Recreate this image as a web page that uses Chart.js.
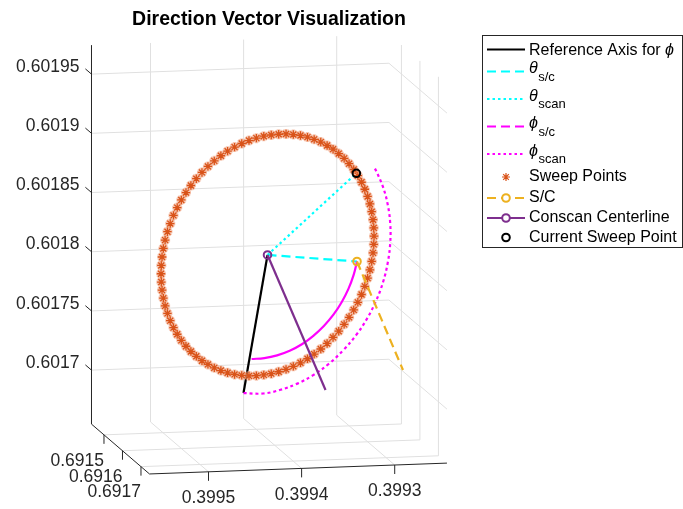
<!DOCTYPE html>
<html><head><meta charset="utf-8">
<script src="https://cdn.jsdelivr.net/npm/chart.js@4.4.1/dist/chart.umd.min.js"></script>
<style>html,body{margin:0;padding:0;background:#fff;overflow:hidden}</style>
</head><body>
<canvas id="c" width="683" height="509"></canvas>
<script>
// ---------------- data (3D values: X, Y, Z) ----------------
const xTicks = [0.3995, 0.3994, 0.3993];
const yTicks = [0.6915, 0.6916, 0.6917];
const zTicks = [0.6017, 0.60175, 0.6018, 0.60185, 0.6019, 0.60195];
const xTickLabels = ['0.3995', '0.3994', '0.3993'];
const yTickLabels = ['0.6915', '0.6916', '0.6917'];
const zTickLabels = ['0.6017', '0.60175', '0.6018', '0.60185', '0.6019', '0.60195'];
const xLim = [0.3992439, 0.3995634];
const yLim = [0.6914325, 0.6917460];
const zLim = [0.6016544, 0.6019745];

const planeY = 0.6916;
const centerXZ = [0.3994076, 0.6018153];
const refEndXZ = [0.3994334, 0.6016994];
const scPointXZ = [0.3993115, 0.6018070];
const scEndXZ = [0.3992621, 0.6017139];
const centerlineEndXZ = [0.3993453, 0.6016994];
const currentSweepXZ = [0.3993122, 0.6018815];

const sweepX = [0.3992932,0.3992935,0.3992943,0.3992957,0.3992976,0.3993001,0.3993031,0.3993066,0.3993106,0.3993150,0.3993200,0.3993253,0.3993311,0.3993372,0.3993436,0.3993504,0.3993575,0.3993647,0.3993722,0.3993799,0.3993877,0.3993956,0.3994036,
0.3994116,0.3994196,0.3994275,0.3994353,0.3994430,0.3994505,0.3994577,0.3994648,0.3994716,0.3994780,0.3994841,0.3994899,0.3994952,0.3995002,0.3995046,0.3995086,0.3995121,0.3995151,0.3995176,0.3995195,0.3995209,0.3995217,
0.3995220,0.3995217,0.3995209,0.3995195,0.3995176,0.3995151,0.3995121,0.3995086,0.3995046,0.3995002,0.3994952,0.3994899,0.3994841,0.3994780,0.3994716,0.3994648,0.3994577,0.3994505,0.3994430,0.3994353,0.3994275,0.3994196,0.3994116,
0.3994036,0.3993956,0.3993877,0.3993799,0.3993722,0.3993647,0.3993575,0.3993504,0.3993436,0.3993372,0.3993311,0.3993253,0.3993200,0.3993150,0.3993106,0.3993066,0.3993031,0.3993001,0.3992976,0.3992957,0.3992943,0.3992935];
const sweepZ = [0.6018279,0.6018209,0.6018138,0.6018066,0.6017996,0.6017926,0.6017858,0.6017790,0.6017725,0.6017662,0.6017601,0.6017543,0.6017487,0.6017436,0.6017387,0.6017342,0.6017301,0.6017264,0.6017232,0.6017204,0.6017181,0.6017163,0.6017149,
0.6017141,0.6017137,0.6017137,0.6017144,0.6017154,0.6017170,0.6017191,0.6017216,0.6017247,0.6017280,0.6017319,0.6017361,0.6017407,0.6017458,0.6017511,0.6017568,0.6017628,0.6017690,0.6017754,0.6017820,0.6017888,0.6017957,
0.6018027,0.6018097,0.6018168,0.6018240,0.6018310,0.6018380,0.6018448,0.6018516,0.6018581,0.6018644,0.6018705,0.6018763,0.6018819,0.6018870,0.6018919,0.6018964,0.6019005,0.6019042,0.6019074,0.6019102,0.6019125,0.6019143,0.6019157,
0.6019165,0.6019169,0.6019169,0.6019162,0.6019152,0.6019136,0.6019115,0.6019090,0.6019059,0.6019026,0.6018987,0.6018945,0.6018899,0.6018848,0.6018795,0.6018738,0.6018678,0.6018616,0.6018552,0.6018486,0.6018418,0.6018349];

const phiScX = [0.3994247,0.3994110,0.3993973,0.3993838,0.3993707,0.3993584,0.3993471,0.3993368,0.3993280,0.3993207,0.3993151,0.3993115];
const phiScZ = [0.6017279,0.6017283,0.6017302,0.6017337,0.6017388,0.6017456,0.6017536,0.6017628,0.6017731,0.6017841,0.6017958,0.6018070];

const phiScanX = [0.3994334,0.3994122,0.3993937,0.3993756,0.3993581,0.3993415,0.3993263,0.3993125,0.3993006,0.3992909,0.3992834,0.3992784,0.3992758,0.3992758,0.3992784,0.3992834,0.3992909,0.3992932];
const phiScanZ = [0.6016994,0.6016984,0.6017010,0.6017057,0.6017126,0.6017216,0.6017325,0.6017448,0.6017586,0.6017734,0.6017891,0.6018053,0.6018218,0.6018379,0.6018538,0.6018688,0.6018829,0.6018862];

// ---------------- 3D -> 2D view projection (orthographic) ----------------
function proj(X, Y, Z) {
  return {
    x: 181.5 - 931000 * (X - 0.3995) + 185000 * (Y - 0.6916),
    y: 394.6 + 34000 * (X - 0.3995) + 159000 * (Y - 0.6916) - 1184000 * (Z - 0.6017)
  };
}
const pXZ = (xz) => proj(xz[0], planeY, xz[1]);
const pts = (xs, zs) => xs.map((x, i) => proj(x, planeY, zs[i]));

const FONT = '"Liberation Sans", Arial, "DejaVu Sans", sans-serif';
const C_TEXT = '#262626';

const box3d = {
  id: 'box3d',
  beforeDatasetsDraw(chart) {
    const ctx = chart.ctx, sx = chart.scales.x, sy = chart.scales.y;
    const P = (X, Y, Z) => { const q = proj(X, Y, Z); return { x: sx.getPixelForValue(q.x), y: sy.getPixelForValue(q.y) }; };
    const seg = (a, b) => { ctx.beginPath(); ctx.moveTo(a.x, a.y); ctx.lineTo(b.x, b.y); ctx.stroke(); };
    ctx.save();
    ctx.strokeStyle = '#e0e0e0'; ctx.lineWidth = 1;
    xTicks.forEach(x => { seg(P(x, yLim[0], zLim[0]), P(x, yLim[0], zLim[1])); seg(P(x, yLim[0], zLim[0]), P(x, yLim[1], zLim[0])); });
    zTicks.forEach(z => { seg(P(xLim[1], yLim[0], z), P(xLim[0], yLim[0], z)); seg(P(xLim[0], yLim[0], z), P(xLim[0], yLim[1], z)); });
    yTicks.forEach(y => { seg(P(xLim[0], y, zLim[0]), P(xLim[0], y, zLim[1])); seg(P(xLim[1], y, zLim[0]), P(xLim[0], y, zLim[0])); });
    ctx.strokeStyle = C_TEXT; ctx.lineWidth = 1;
    seg(P(xLim[1], yLim[0], zLim[0]), P(xLim[1], yLim[0], zLim[1]));
    seg(P(xLim[1], yLim[0], zLim[0]), P(xLim[1], yLim[1], zLim[0]));
    seg(P(xLim[1], yLim[1], zLim[0]), P(xLim[0], yLim[1], zLim[0]));
    zTicks.forEach(z => seg(P(xLim[1], yLim[0], z), P(xLim[1], yLim[0] - 0.000033, z)));
    xTicks.forEach(x => seg(P(x, yLim[1], zLim[0]), P(x, yLim[1], zLim[0] - 0.0000076)));
    yTicks.forEach(y => seg(P(xLim[1], y, zLim[0]), P(xLim[1], y, zLim[0] - 0.0000076)));
    ctx.restore();
  },
  afterDraw(chart) {
    const ctx = chart.ctx, sx = chart.scales.x, sy = chart.scales.y;
    const P = (X, Y, Z) => { const q = proj(X, Y, Z); return { x: sx.getPixelForValue(q.x), y: sy.getPixelForValue(q.y) }; };
    ctx.save();
    ctx.fillStyle = C_TEXT;
    ctx.font = '17.5px ' + FONT;
    ctx.textBaseline = 'middle';
    ctx.textAlign = 'right';
    zTicks.forEach((z, i) => { const a = P(xLim[1], yLim[0] - 0.000033, z); ctx.fillText(zTickLabels[i], a.x - 6, a.y - 2); });
    yTicks.forEach((y, i) => { const a = P(xLim[1], y, zLim[0]); ctx.fillText(yTickLabels[i], a.x, a.y + 26); });
    ctx.textAlign = 'center';
    xTicks.forEach((x, i) => { const a = P(x, yLim[1], zLim[0]); ctx.fillText(xTickLabels[i], a.x, a.y + 26.5); });
    // title
    ctx.fillStyle = '#000';
    ctx.font = 'bold 19.5px ' + FONT;
    ctx.fillText('Direction Vector Visualization', 269, 20);
    // legend
    const L = { x0: 482.5, y0: 35.5, x1: 682.5, y1: 247.5 };
    ctx.fillStyle = '#fff'; ctx.fillRect(L.x0, L.y0, L.x1 - L.x0, L.y1 - L.y0);
    ctx.strokeStyle = C_TEXT; ctx.lineWidth = 1; ctx.setLineDash([]);
    ctx.strokeRect(L.x0, L.y0, L.x1 - L.x0, L.y1 - L.y0);
    const lx0 = 487, lx1 = 525, mx = 506, tx = 529;
    const line = (y, color, dash, w) => { ctx.save(); ctx.strokeStyle = color; ctx.lineWidth = w || 2; ctx.setLineDash(dash); ctx.beginPath(); ctx.moveTo(lx0, y); ctx.lineTo(lx1, y); ctx.stroke(); ctx.restore(); };
    const circ = (y, color) => { ctx.save(); ctx.strokeStyle = color; ctx.lineWidth = 2; ctx.setLineDash([]); ctx.fillStyle = '#fff'; ctx.beginPath(); ctx.arc(mx, y, 3.8, 0, Math.PI * 2); ctx.fill(); ctx.stroke(); ctx.restore(); };
    const txt = (s, x, y, f) => { ctx.font = f; ctx.fillStyle = '#000'; ctx.textAlign = 'left'; ctx.textBaseline = 'middle'; ctx.fillText(s, x, y); return ctx.measureText(s).width; };
    const F = '16px ' + FONT, FI = 'italic 16px ' + FONT, FS = '13px ' + FONT;
    const greek = (g, sub, y) => { const w = txt(g, tx, y - 3, FI); txt(sub, tx + w + 0.5, y + 5, FS); };
    line(49.5, '#000', []);
    const w0 = txt('Reference Axis for ', tx, 51, F); txt('ϕ', tx + w0, 51, FI);
    line(71.5, '#00ffff', [9, 5]); greek('θ', 's/c', 72);
    line(99, '#00ffff', [2.5, 3]); greek('θ', 'scan', 99.5);
    line(126.5, '#ff00ff', [9, 5]); greek('ϕ', 's/c', 127);
    line(154, '#ff00ff', [2.5, 3]); greek('ϕ', 'scan', 154.5);
    ctx.save(); ctx.strokeStyle = '#D95319'; ctx.lineWidth = 1.2; Chart.helpers.drawPoint(ctx, { pointStyle: 'star', radius: 4, rotation: 0, borderWidth: 1.2 }, mx, 177); ctx.restore();
    txt('Sweep Points', tx, 177, F);
    line(198, '#EDB120', [9, 5]); circ(198, '#EDB120'); txt('S/C', tx, 198, F);
    line(218, '#7E2F8E', []); circ(218, '#7E2F8E'); txt('Conscan Centerline', tx, 218, F);
    circ(237.5, '#000'); txt('Current Sweep Point', tx, 237.5, F);
    ctx.restore();
  }
};

const lineDs = (label, data, color, dash, order, extra) => Object.assign({
  label, data, showLine: true, borderColor: color, backgroundColor: color, borderWidth: 2.2,
  borderDash: dash, pointRadius: 0, order, clip: false, fill: false
}, extra || {});

const sweepPts = pts(sweepX, sweepZ);
const datasets = [
  lineDs('Reference Axis for ϕ', [pXZ(centerXZ), pXZ(refEndXZ)], '#000000', [], 9),
  lineDs('θ s/c', [pXZ(centerXZ), pXZ(scPointXZ)], '#00ffff', [9, 5], 8),
  lineDs('θ scan', [pXZ(centerXZ), pXZ(currentSweepXZ)], '#00ffff', [2.5, 3], 7),
  lineDs('ϕ s/c', pts(phiScX, phiScZ), '#ff00ff', [], 6, { tension: 0.4 }),
  lineDs('ϕ scan', pts(phiScanX, phiScanZ), '#ff00ff', [3, 3], 5, { tension: 0.4 }),
  { label: 'Sweep Points (halo)', data: sweepPts, showLine: false, pointStyle: 'star', pointRadius: 5,
    pointBorderWidth: 3.2, pointBorderColor: 'rgba(240,160,125,0.6)', pointBackgroundColor: 'rgba(0,0,0,0)', order: 4.5, clip: false },
  { label: 'Sweep Points', data: sweepPts, showLine: false, pointStyle: 'star', pointRadius: 4.2,
    pointBorderWidth: 1.3, pointBorderColor: '#D95319', pointBackgroundColor: '#D95319', order: 4, clip: false },
  lineDs('S/C', [pXZ(scPointXZ), pXZ(scEndXZ)], '#EDB120', [9, 5], 3,
    { pointRadius: [3.8, 0], pointBorderWidth: 2, pointBorderColor: '#EDB120', pointBackgroundColor: 'rgba(0,0,0,0)' }),
  lineDs('Conscan Centerline', [pXZ(centerXZ), pXZ(centerlineEndXZ)], '#7E2F8E', [], 2,
    { pointRadius: [3.8, 0], pointBorderWidth: 2, pointBorderColor: '#7E2F8E', pointBackgroundColor: 'rgba(0,0,0,0)' }),
  { label: 'Current Sweep Point', data: [pXZ(currentSweepXZ)], showLine: false, pointStyle: 'circle', pointRadius: 3.8,
    pointBorderWidth: 2, pointBorderColor: '#000', pointBackgroundColor: 'rgba(0,0,0,0)', order: 1, clip: false }
];

new Chart(document.getElementById('c'), {
  type: 'scatter',
  data: { datasets },
  options: {
    responsive: false, animation: false, events: [],
    layout: { padding: 0, autoPadding: false },
    scales: {
      x: { type: 'linear', min: 0, max: 683, display: false },
      y: { type: 'linear', min: 0, max: 509, reverse: true, display: false }
    },
    plugins: { legend: { display: false }, tooltip: { enabled: false }, title: { display: false } }
  },
  plugins: [box3d]
});
</script>
</body></html>
